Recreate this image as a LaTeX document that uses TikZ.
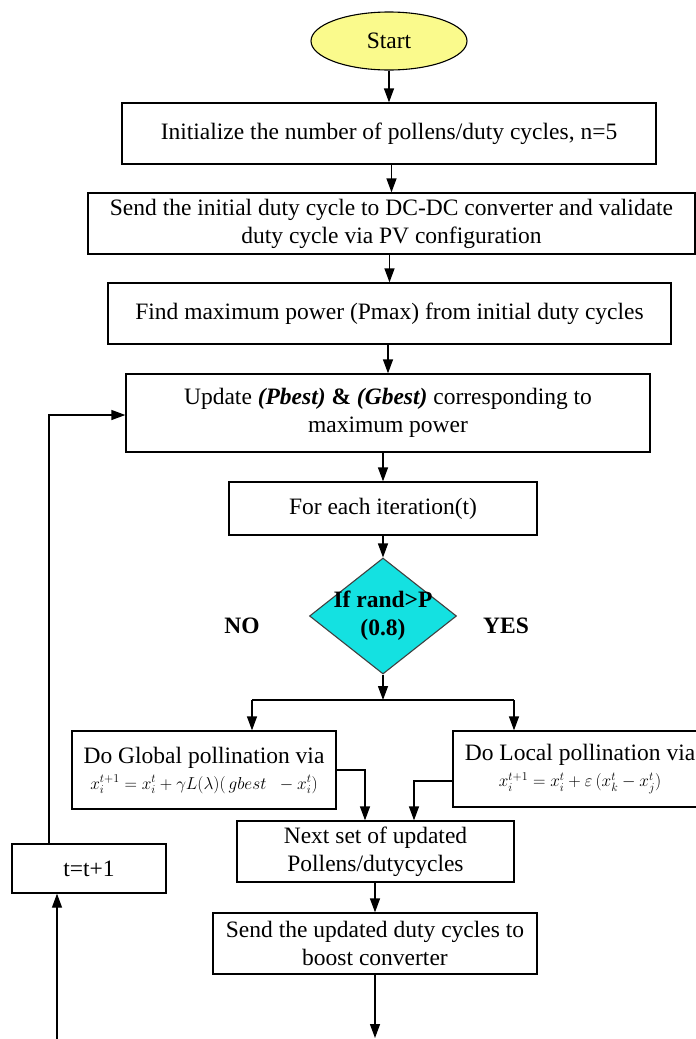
\documentclass[tikz,border=0pt]{standalone}
\usepackage{fontspec}
\setmainfont{Liberation Serif}
\usetikzlibrary{arrows.meta,shapes.geometric,calc}
\definecolor{startyellow}{RGB}{250,250,140}
\definecolor{deccyan}{RGB}{20,225,225}
\begin{document}
\begin{tikzpicture}[x=1pt,y=-1pt,
  every node/.style={font=\fontsize{23.5}{28}\selectfont},
  box/.style={draw, line width=1.3pt, rectangle, align=center, inner sep=0pt},
  arr/.style={line width=1.3pt, -{Triangle[length=14pt,width=10pt]}},
  conn/.style={line width=1.3pt},
  lbl/.style={font=\bfseries\fontsize{23.5}{28}\selectfont}
]
\clip (0,0) rectangle (696,1039);
\fill[white] (0,0) rectangle (696,1039);

\node[draw, ellipse, fill=startyellow, line width=1.1pt, minimum width=156pt, minimum height=58pt, inner sep=0pt] (start) at (389,41) {Start};
\node[box, minimum width=534pt, minimum height=61pt] (init) at (389,133.5) {Initialize the number of pollens/duty cycles, n=5};
\node[box, minimum width=607pt, minimum height=61pt] (send) at (391.5,223.5) {Send the initial duty cycle to DC-DC converter and validate\\duty cycle via PV configuration};
\node[box, minimum width=563pt, minimum height=61pt] (find) at (389.5,313.5) {Find maximum power (Pmax) from initial duty cycles};
\node[box, minimum width=524pt, minimum height=78pt] (update) at (388,413) {Update \textbf{\textit{(Pbest)} \& \textit{(Gbest)}} corresponding to\\maximum power};
\node[box, minimum width=308pt, minimum height=53pt] (foreach) at (383,508.5) {For each iteration(t)};
\node[diamond, draw=black!75, fill=deccyan, line width=1.1pt, minimum width=147pt, minimum height=116pt, inner sep=0pt] (dec) at (383,616) {};
\node[lbl, align=center] (dectext) at (383,616) {If rand>P\\(0.8)};
\node[lbl] (no) at (242,626) {NO};
\node[lbl] (yes) at (506,626) {YES};

\coordinate (split) at (383,700);
\coordinate (splitL) at (252,700);
\coordinate (splitR) at (514,700);

\node[box, minimum width=264pt, minimum height=78pt] (global) at (204,770) {Do Global pollination via\\[-2pt]{\fontsize{17.5}{20}\selectfont $x_i^{t+1}=x_i^t+\gamma L(\lambda)(\,gbest\;\;-x_i^t)$}};
\node[box, minimum width=254pt, minimum height=76pt] (local) at (580,769) {Do Local pollination via\\[-2pt]{\fontsize{17.5}{20}\selectfont $x_i^{t+1}=x_i^t+\varepsilon\,(x_k^t-x_j^t)$}};
\node[box, minimum width=277pt, minimum height=61pt] (next) at (375.5,851.5) {Next set of updated\\Pollens/dutycycles};
\node[box, minimum width=154pt, minimum height=49pt] (tbox) at (89,868.5) {t=t+1};
\node[box, minimum width=324pt, minimum height=61pt] (sendupd) at (375,943.5) {Send the updated duty cycles to\\boost converter};
\coordinate (endpt) at (375,1038);
\coordinate (fbot) at (57,1039);

\draw[arr] (init.north |- start.south) -- (init.north);
\draw[arr] (send.north |- init.south) -- (send.north);
\draw[arr] (find.north |- send.south) -- (find.north);
\draw[arr] (update.north |- find.south) -- (update.north);
\draw[arr] (foreach.north |- update.south) -- (foreach.north);
\draw[arr] (foreach.south) -- (dec.north);
\draw[arr] (dec.south) -- (split);
\draw[conn] (splitL) -- (splitR);
\draw[arr] (splitL) -- (splitL |- global.north);
\draw[arr] (splitR) -- (splitR |- local.north);
\draw[arr] (global.east) -| ($(next.north)+(-10.5,0)$);
\draw[arr] ([yshift=-12pt]local.west) -| ($(next.north)+(38.5,0)$);
\draw[arr] (sendupd.north |- next.south) -- (sendupd.north);
\draw[arr] (sendupd.south) -- (endpt);
\draw[arr] (fbot) -- (fbot |- tbox.south);
\draw[arr] ([xshift=-40pt]tbox.north) |- ([yshift=-2pt]update.west);
\end{tikzpicture}
\end{document}
